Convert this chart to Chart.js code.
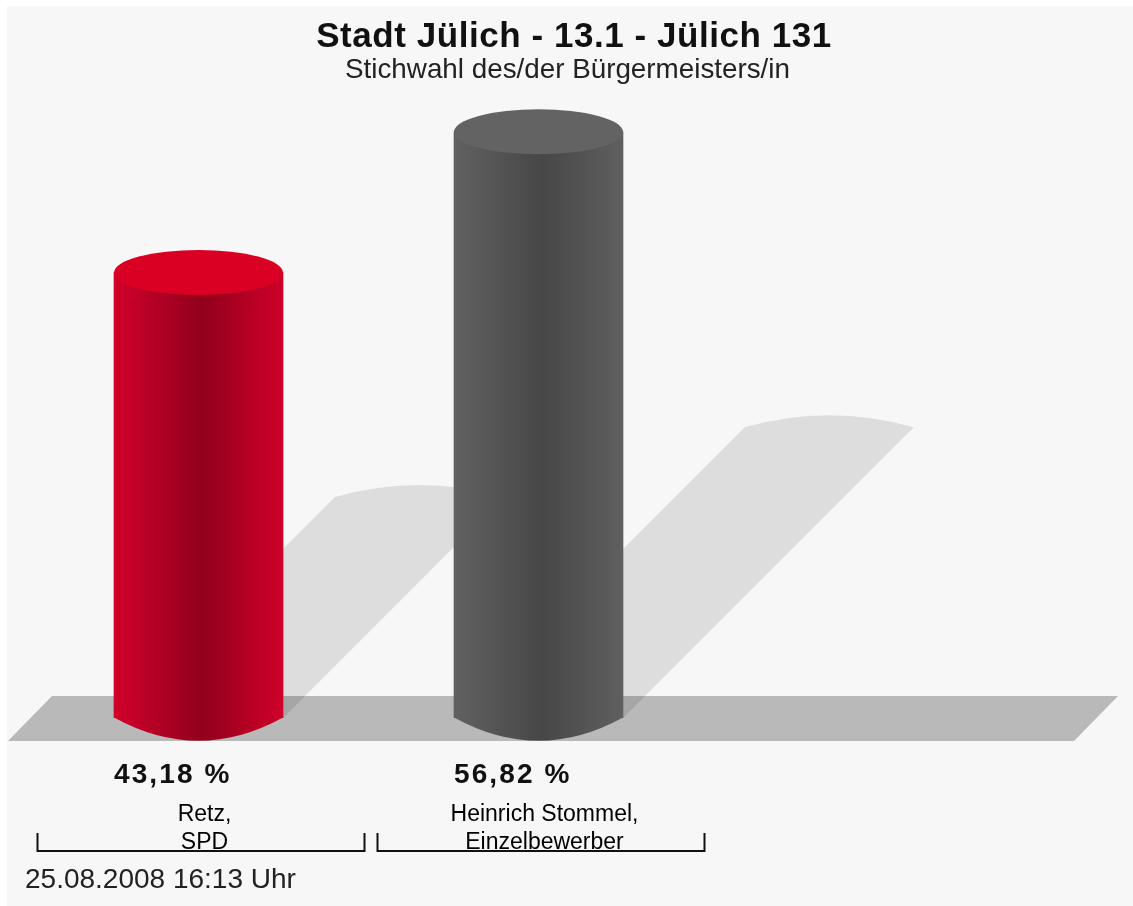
<!DOCTYPE html>
<html>
<head>
<meta charset="utf-8">
<title>Stadt Jülich - 13.1 - Jülich 131</title>
<script src="https://cdn.jsdelivr.net/npm/chart.js@4"></script>
<style>
  html, body { margin: 0; padding: 0; background: #fff; }
  #wrap { width: 1133px; height: 906px; }
  canvas { display: block; filter: blur(0.7px); }
</style>
</head>
<body>
<div id="wrap"><canvas id="chart" width="1133" height="906"></canvas></div>
<script>
const categories = [["Retz,", "SPD"], ["Heinrich Stommel,", "Einzelbewerber"]];
const shares = [43.18, 56.82];
const sideColors = [
  ["#d2002b", "#92001c", "#cf0029"],
  ["#616161", "#474747", "#5f5f5f"],
];
const capColors = ["#da0024", "#636363"];
const titleText = "Stadt Jülich - 13.1 - Jülich 131";
const subtitleText = "Stichwahl des/der Bürgermeisters/in";
const dateText = "25.08.2008 16:13 Uhr";

const FONT = '"Liberation Sans", Arial, sans-serif';
const RY = 22.5; // halbe Höhe der Ellipsen

function sideGradient(ctx, left, right, i) {
  const g = ctx.createLinearGradient(left, 0, right, 0);
  g.addColorStop(0, sideColors[i][0]);
  g.addColorStop(0.52, sideColors[i][1]);
  g.addColorStop(1, sideColors[i][2]);
  return g;
}

function putText(ctx, text, x, y, font, spacing, align, color) {
  ctx.save();
  ctx.font = font;
  ctx.letterSpacing = spacing + "px";
  ctx.textAlign = align;
  ctx.textBaseline = "alphabetic";
  ctx.fillStyle = color;
  ctx.fillText(text, x, y);
  ctx.restore();
}

// Hintergrund, Boden und Schatten liegen unter den Säulen
const floorPlugin = {
  id: "floor",
  beforeDraw(chart) {
    const ctx = chart.ctx;
    ctx.save();
    ctx.fillStyle = "#f7f7f7";
    ctx.fillRect(7, 6, chart.width - 7, chart.height - 6);
    ctx.restore();
  },
  beforeDatasetsDraw(chart) {
    const ctx = chart.ctx;
    const base = chart.scales.y.getPixelForValue(0);
    ctx.save();
    ctx.fillStyle = "#b9b9b9";
    ctx.beginPath();
    ctx.moveTo(52, base - 22);
    ctx.lineTo(1118, base - 22);
    ctx.lineTo(1074, base + 23);
    ctx.lineTo(8, base + 23);
    ctx.closePath();
    ctx.fill();

    ctx.fillStyle = "rgba(0,0,0,0.1)";
    chart.getDatasetMeta(0).data.forEach((bar) => {
      const half = bar.width / 2;
      const rise = (base - bar.y) * 0.496;
      const cx = bar.x + rise;
      const cy = base - rise;
      ctx.beginPath();
      ctx.moveTo(bar.x - half, base);
      ctx.lineTo(cx - half, cy);
      ctx.quadraticCurveTo(cx, cy - 24, cx + half, cy);
      ctx.lineTo(bar.x + half, base);
      ctx.closePath();
      ctx.fill();
    });
    ctx.restore();
  },
  afterDatasetsDraw(chart) {
    const ctx = chart.ctx;
    const base = chart.scales.y.getPixelForValue(0);
    chart.getDatasetMeta(0).data.forEach((bar, i) => {
      const half = bar.width / 2;
      // untere Rundung
      ctx.fillStyle = sideGradient(ctx, bar.x - half, bar.x + half, i);
      ctx.beginPath();
      ctx.moveTo(bar.x - half, base - 0.5);
      ctx.quadraticCurveTo(bar.x, base + 2 * RY + 1, bar.x + half, base - 0.5);
      ctx.closePath();
      ctx.fill();
      // Deckel
      ctx.fillStyle = capColors[i];
      ctx.beginPath();
      ctx.ellipse(bar.x, bar.y, half, RY, 0, 0, 2 * Math.PI);
      ctx.fill();
      // Prozentwert linksbündig unter der Säule
      const label = shares[i].toFixed(2).replace(".", ",") + " %";
      putText(ctx, label, bar.x - half, 783, "bold 28px " + FONT, 2.1, "left", "#111");
    });
  },
  afterDraw(chart) {
    const ctx = chart.ctx;
    putText(ctx, titleText, 574, 47, "bold 35px " + FONT, 0.55, "center", "#111");
    putText(ctx, subtitleText, 567.5, 78, "27.8px " + FONT, 0, "center", "#222");
    putText(ctx, dateText, 25, 888, "28px " + FONT, 0, "left", "#222");

    // Klammern unter den Kategorien
    ctx.save();
    ctx.strokeStyle = "#111";
    ctx.lineWidth = 2;
    chart.getDatasetMeta(0).data.forEach((bar) => {
      ctx.beginPath();
      ctx.moveTo(bar.x - 161, 833);
      ctx.lineTo(bar.x - 161, 851);
      ctx.lineTo(bar.x + 166, 851);
      ctx.lineTo(bar.x + 166, 833);
      ctx.stroke();
    });
    ctx.restore();
  },
};

new Chart(document.getElementById("chart"), {
  type: "bar",
  data: {
    labels: categories,
    datasets: [
      {
        data: shares,
        barThickness: 169,
        borderWidth: 0,
        backgroundColor: (c) => {
          const area = c.chart.chartArea;
          if (!area || c.dataIndex === undefined) return sideColors[0][0];
          const x = c.chart.scales.x.getPixelForValue(c.dataIndex);
          return sideGradient(c.chart.ctx, x - 84.5, x + 84.5, c.dataIndex);
        },
      },
    ],
  },
  options: {
    responsive: false,
    animation: false,
    layout: { padding: { top: 99, left: 28.5, right: 424.5, bottom: 0 } },
    plugins: {
      legend: { display: false },
      title: { display: false },
      tooltip: { enabled: false },
    },
    scales: {
      x: {
        grid: { display: false },
        border: { display: false },
        afterFit: (scale) => {
          scale.height = 188;
        },
        ticks: {
          color: "#000",
          font: { family: FONT, size: 23, lineHeight: 1.22 },
          padding: 75,
          labelOffset: 6,
          maxRotation: 0,
          autoSkip: false,
        },
      },
      y: { display: false, min: 0, max: 60 },
    },
  },
  plugins: [floorPlugin],
});
</script>
</body>
</html>
